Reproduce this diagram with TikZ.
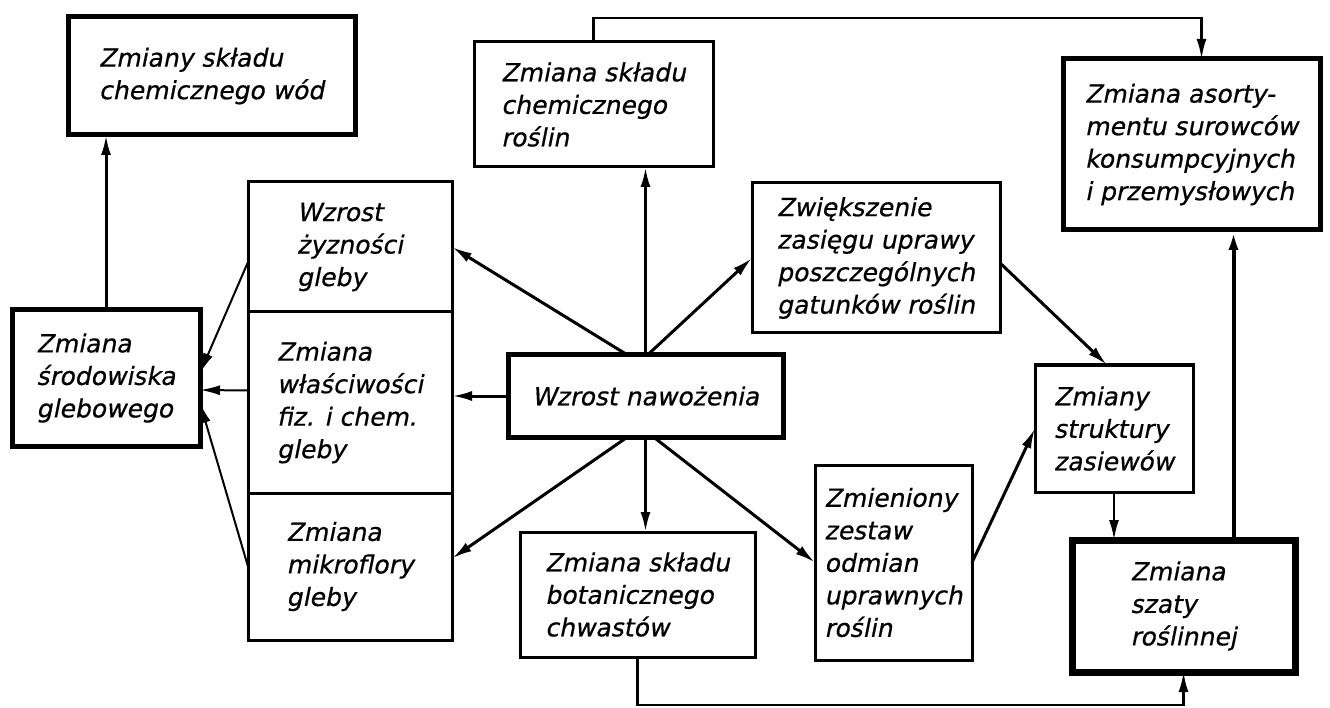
\documentclass[tikz,border=0pt]{standalone}
\usepackage{fontspec}
\newfontfamily\lettering{DejaVu Sans}[FakeSlant=0.2, FakeBold=0.6]
\usetikzlibrary{arrows.meta,calc}

\begin{document}
\begin{tikzpicture}[x=1pt,y=-1pt]
    \tikzstyle{every node}+=[font=\fontsize{25}{32.5}\lettering, align=left, inner sep=0pt, outer sep=0pt]
    \tikzstyle{box}=[draw, line width=3pt]
    \tikzstyle{bbox}=[draw, line width=5pt]
    \tikzstyle{arr}=[line width=3pt, -{Latex[length=20pt,width=10pt]}]
    \useasboundingbox (0,0) rectangle (1330,708);
    \node [bbox, minimum width=287pt, minimum height=118pt] (wody) at (211.5,76) {Zmiany składu\\chemicznego wód};
    \node [box, minimum width=239pt, minimum height=125pt] (chemros) at (593.5,104.5) {Zmiana składu\\chemicznego\\roślin};
    \node [bbox, minimum width=257pt, minimum height=171pt] (asort) at (1191.5,144.5) {Zmiana asorty-\\mentu surowców\\konsumpcyjnych\\i przemysłowych};
    \node [box, minimum width=248pt, minimum height=150pt] (zasieg) at (876,258) {Zwiększenie\\zasięgu uprawy\\poszczególnych\\gatunków roślin};
    \node [bbox, minimum width=188pt, minimum height=136pt] (srodow) at (106,378) {Zmiana\\środowiska\\glebowego};
    \node [box, minimum width=204pt, minimum height=130pt] (gleba1) at (350,247) {Wzrost\\żyzności\\gleby};
    \node [box, minimum width=204pt, minimum height=181pt] (gleba2) at (350,402.5) {Zmiana\\właściwości\\fiz. i chem.\\gleby};
    \node [box, minimum width=204pt, minimum height=147pt] (gleba3) at (350,566.5) {Zmiana\\mikroflory\\gleby};
    \node [bbox, minimum width=275pt, minimum height=82pt] (nawoz) at (645.5,396) {Wzrost nawożenia};
    \node [box, minimum width=235pt, minimum height=125pt] (chwasty) at (637.5,594.5) {Zmiana składu\\botanicznego\\chwastów};
    \node [box, minimum width=157pt, minimum height=195pt] (odmiany) at (893.5,562.5) {Zmieniony\\zestaw\\odmian\\uprawnych\\roślin};
    \node [box, minimum width=158pt, minimum height=127pt] (zasiewy) at (1114,428.5) {Zmiany\\struktury\\zasiewów};
    \node [draw, line width=7pt, minimum width=223pt, minimum height=132pt] (szata) at (1183.5,606) {Zmiana\\szaty\\roślinnej};
    \draw [arr] (srodow.north) -- (srodow.north |- wody.south);
    \draw [arr] (nawoz.north) -- (nawoz.north |- chemros.south);
    \draw [arr] ($(nawoz.north)+(-18,0)$) -- (gleba1.east);
    \draw [arr] ($(nawoz.north)+(2,0)$) -- (zasieg.west);
    \draw [arr] (nawoz.west) -- (nawoz.west -| gleba2.east);
    \draw [arr] ($(nawoz.south)+(-18,0)$) -- ($(gleba3.east)+(0,-8)$);
    \draw [arr] (nawoz.south) -- (nawoz.south |- chwasty.north);
    \draw [arr] ($(nawoz.south)+(8,0)$) -- (odmiany.west);
    \draw [arr] ($(zasieg.east)+(0,5)$) -- ($(zasiewy.north)+(-7,0)$);
    \draw [arr] (odmiany.east) -- (zasiewy.west);
    \draw [arr, line width=2.5pt] (zasiewy.south) -- (zasiewy.south |- szata.north);
    \coordinate (up) at ($(szata.north)+(50,0)$);
    \draw [arr, line width=4pt] (up) -- (up |- asort.south);
    \draw [arr, line width=2.5pt] (chwasty.south) -- ++(0,48) -| (szata.south);
    \draw [arr, line width=2.5pt] (chemros.north) -- ++(0,-24) -| ($(asort.north)+(10,0)$);
    \draw [arr, line width=2pt] ($(gleba1.west)+(0,15)$) -- ($(srodow.east)+(0,-5)$);
    \draw [arr, line width=2pt] ($(gleba2.west)+(0,-12)$) -- ($(srodow.east)+(0,12)$);
    \draw [arr, line width=2pt] (gleba3.west) -- ($(srodow.east)+(0,25)$);
\end{tikzpicture}
\end{document}
